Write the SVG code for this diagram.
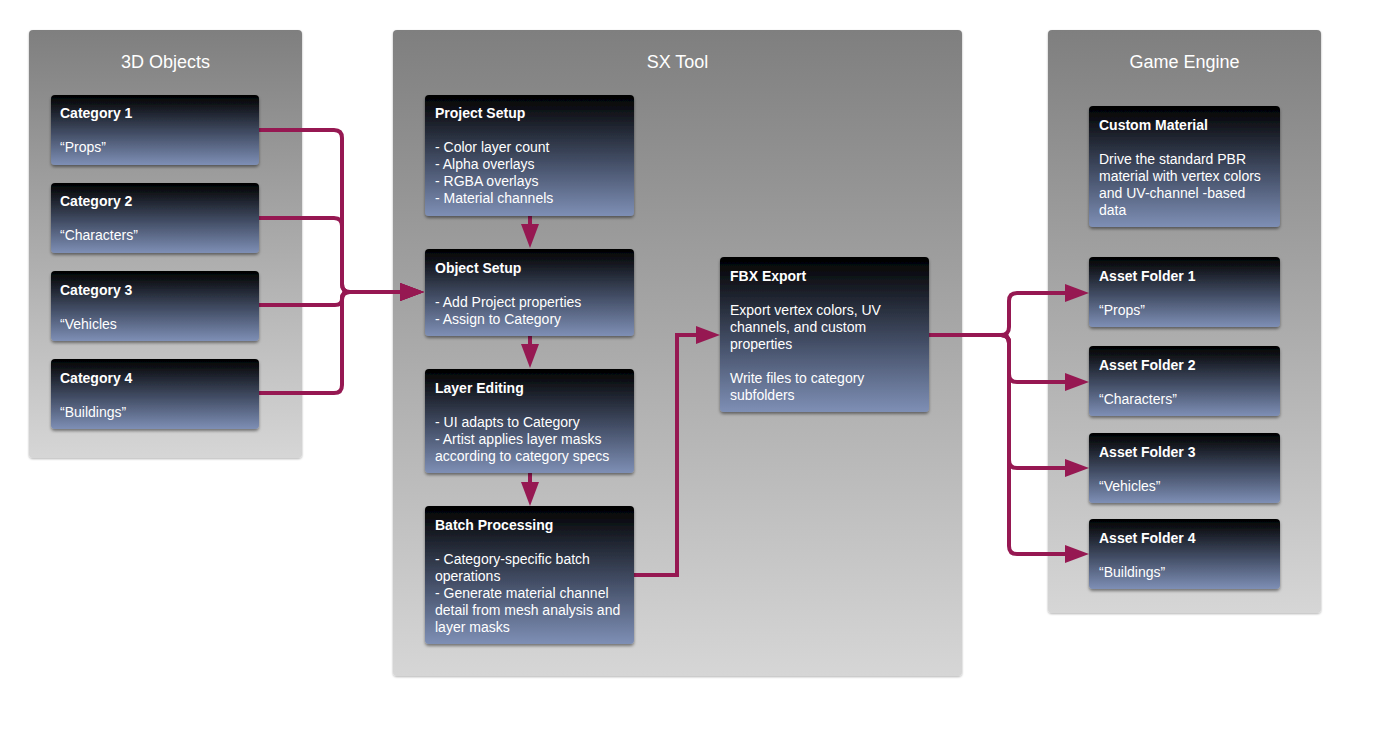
<svg xmlns="http://www.w3.org/2000/svg" width="1393" height="748" viewBox="0 0 1393 748">
<defs>
<linearGradient id="gPanel" x1="0" y1="0" x2="0" y2="1">
<stop offset="0" stop-color="#7f7f7f"/>
<stop offset="1" stop-color="#d6d6d6"/>
</linearGradient>
<linearGradient id="gBox" x1="0" y1="0" x2="0" y2="1">
<stop offset="0" stop-color="#000000"/>
<stop offset="0.55" stop-color="#434e66"/>
<stop offset="1" stop-color="#7e8fb5"/>
</linearGradient>
<filter id="sBox" x="-10%" y="-10%" width="120%" height="130%">
<feDropShadow dx="0" dy="2" stdDeviation="1.5" flood-color="#000" flood-opacity="0.45"/>
</filter>
<filter id="sPanel" x="-5%" y="-5%" width="110%" height="110%">
<feDropShadow dx="0" dy="1" stdDeviation="1" flood-color="#000" flood-opacity="0.3"/>
</filter>
<marker id="arr" markerUnits="userSpaceOnUse" viewBox="0 0 24 18" refX="0" refY="9" markerWidth="24" markerHeight="18" orient="auto">
<path d="M0,0 L24,9 L0,18 z" fill="#961852"/>
</marker>
</defs>
<style>
.panel{fill:url(#gPanel);filter:url(#sPanel);}
.box{fill:url(#gBox);filter:url(#sBox);}
.pt{font-family:"Liberation Sans",Arial,sans-serif;font-size:18px;fill:#ffffff;text-anchor:middle;}
.bt{font-family:"Liberation Sans",Arial,sans-serif;font-size:14px;font-weight:bold;fill:#ffffff;}
.tx{font-family:"Liberation Sans",Arial,sans-serif;font-size:14px;fill:#ffffff;}
.c{fill:none;stroke:#961852;stroke-width:4;}
</style>
<rect width="1393" height="748" fill="#ffffff"/>

<g id="panel-3d-objects">
<rect class="panel" x="29" y="30" width="273" height="428" rx="4"/>
<text class="pt" x="165.5" y="68">3D Objects</text>
</g>
<g id="panel-sx-tool">
<rect class="panel" x="393" y="30" width="569" height="646" rx="4"/>
<text class="pt" x="677.5" y="68">SX Tool</text>
</g>
<g id="panel-game-engine">
<rect class="panel" x="1048" y="30" width="273" height="583" rx="4"/>
<text class="pt" x="1184.5" y="68">Game Engine</text>
</g>

<g id="connectors">
<path class="c" d="M259,130 H334 Q342,130 342,138 V284 Q342,292 350,292 H400" marker-end="url(#arr)"/>
<path class="c" d="M259,218 H334 Q342,218 342,226 V284 Q342,292 350,292 H400" marker-end="url(#arr)"/>
<path class="c" d="M259,305 H335 Q342,305 342,299 V298 Q342,292 349,292 H400" marker-end="url(#arr)"/>
<path class="c" d="M259,393 H334 Q342,393 342,385 V300 Q342,292 350,292 H400" marker-end="url(#arr)"/>
<path class="c" d="M530,216 V224" marker-end="url(#arr)"/>
<path class="c" d="M530,336 V344" marker-end="url(#arr)"/>
<path class="c" d="M530,473 V482" marker-end="url(#arr)"/>
<path class="c" d="M634,575 H677 V335 H696" marker-end="url(#arr)"/>
<path class="c" d="M929,335 H1001 Q1009,335 1009,327 V301 Q1009,293 1017,293 H1065" marker-end="url(#arr)"/>
<path class="c" d="M929,335 H1001 Q1009,335 1009,343 V374 Q1009,382 1017,382 H1065" marker-end="url(#arr)"/>
<path class="c" d="M929,335 H1001 Q1009,335 1009,343 V460 Q1009,468 1017,468 H1065" marker-end="url(#arr)"/>
<path class="c" d="M929,335 H1001 Q1009,335 1009,343 V546 Q1009,554 1017,554 H1065" marker-end="url(#arr)"/>
</g>

<g id="category-1">
<rect class="box" x="51" y="95" width="208" height="70" rx="4"/>
<text class="bt" x="60" y="118">Category 1</text>
<text class="tx" x="60" y="152">“Props”</text>
</g>
<g id="category-2">
<rect class="box" x="51" y="183" width="208" height="70" rx="4"/>
<text class="bt" x="60" y="206">Category 2</text>
<text class="tx" x="60" y="240">“Characters”</text>
</g>
<g id="category-3">
<rect class="box" x="51" y="271" width="208" height="70" rx="4"/>
<text class="bt" x="60" y="295">Category 3</text>
<text class="tx" x="60" y="329">“Vehicles</text>
</g>
<g id="category-4">
<rect class="box" x="51" y="359" width="208" height="70" rx="4"/>
<text class="bt" x="60" y="383">Category 4</text>
<text class="tx" x="60" y="417">“Buildings”</text>
</g>

<g id="project-setup">
<rect class="box" x="425" y="95" width="209" height="121" rx="4"/>
<text class="bt" x="435" y="118">Project Setup</text>
<text class="tx" x="435" y="152">- Color layer count</text>
<text class="tx" x="435" y="169">- Alpha overlays</text>
<text class="tx" x="435" y="186">- RGBA overlays</text>
<text class="tx" x="435" y="203">- Material channels</text>
</g>
<g id="object-setup">
<rect class="box" x="425" y="249" width="209" height="87" rx="4"/>
<text class="bt" x="435" y="273">Object Setup</text>
<text class="tx" x="435" y="307">- Add Project properties</text>
<text class="tx" x="435" y="324">- Assign to Category</text>
</g>
<g id="layer-editing">
<rect class="box" x="425" y="369" width="209" height="104" rx="4"/>
<text class="bt" x="435" y="393">Layer Editing</text>
<text class="tx" x="435" y="427">- UI adapts to Category</text>
<text class="tx" x="435" y="444">- Artist applies layer masks</text>
<text class="tx" x="435" y="461">according to category specs</text>
</g>
<g id="batch-processing">
<rect class="box" x="425" y="506" width="209" height="138" rx="4"/>
<text class="bt" x="435" y="530">Batch Processing</text>
<text class="tx" x="435" y="564">- Category-specific batch</text>
<text class="tx" x="435" y="581">operations</text>
<text class="tx" x="435" y="598">- Generate material channel</text>
<text class="tx" x="435" y="615">detail from mesh analysis and</text>
<text class="tx" x="435" y="632">layer masks</text>
</g>
<g id="fbx-export">
<rect class="box" x="720" y="257" width="209" height="155" rx="4"/>
<text class="bt" x="730" y="281">FBX Export</text>
<text class="tx" x="730" y="315">Export vertex colors, UV</text>
<text class="tx" x="730" y="332">channels, and custom</text>
<text class="tx" x="730" y="349">properties</text>
<text class="tx" x="730" y="383">Write files to category</text>
<text class="tx" x="730" y="400">subfolders</text>
</g>

<g id="custom-material">
<rect class="box" x="1089" y="106" width="191" height="121" rx="4"/>
<text class="bt" x="1099" y="130">Custom Material</text>
<text class="tx" x="1099" y="164">Drive the standard PBR</text>
<text class="tx" x="1099" y="181">material with vertex colors</text>
<text class="tx" x="1099" y="198">and UV-channel -based</text>
<text class="tx" x="1099" y="215">data</text>
</g>
<g id="asset-folder-1">
<rect class="box" x="1089" y="257" width="191" height="70" rx="4"/>
<text class="bt" x="1099" y="281">Asset Folder 1</text>
<text class="tx" x="1099" y="315">“Props”</text>
</g>
<g id="asset-folder-2">
<rect class="box" x="1089" y="346" width="191" height="70" rx="4"/>
<text class="bt" x="1099" y="370">Asset Folder 2</text>
<text class="tx" x="1099" y="404">“Characters”</text>
</g>
<g id="asset-folder-3">
<rect class="box" x="1089" y="433" width="191" height="70" rx="4"/>
<text class="bt" x="1099" y="457">Asset Folder 3</text>
<text class="tx" x="1099" y="491">“Vehicles”</text>
</g>
<g id="asset-folder-4">
<rect class="box" x="1089" y="519" width="191" height="70" rx="4"/>
<text class="bt" x="1099" y="543">Asset Folder 4</text>
<text class="tx" x="1099" y="577">“Buildings”</text>
</g>
</svg>
